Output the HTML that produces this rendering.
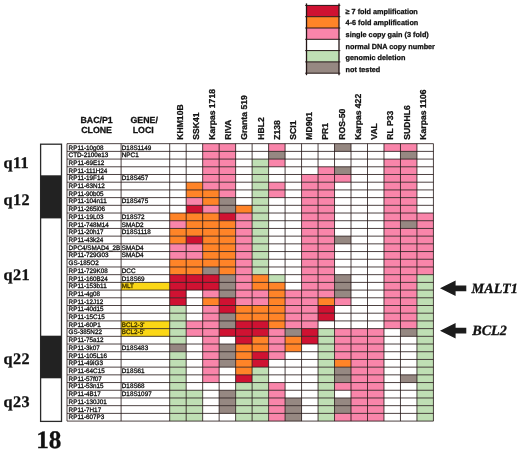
<!DOCTYPE html>
<html><head><meta charset="utf-8"><title>Chromosome 18 array CGH</title>
<style>html,body{margin:0;padding:0;background:#fff}body{width:520px;height:451px;overflow:hidden}svg{display:block;will-change:transform}text{font-family:"Liberation Sans",sans-serif;text-rendering:geometricPrecision}.s{font-family:"Liberation Serif",serif;font-weight:bold;stroke:#111;stroke-width:.3px}.b{font-weight:bold;stroke:#111;stroke-width:.28px}</style></head><body>
<svg width="520" height="451" viewBox="0 0 520 451">
<rect x="0" y="0" width="520" height="451" fill="#fff"/>
<rect x="306.5" y="5.40" width="32.50" height="11.3" fill="#cf1232"/>
<text class="b" x="345.6" y="13.95" font-size="7.27" fill="#111">≥ 7 fold amplification</text>
<rect x="306.5" y="16.70" width="32.50" height="11.3" fill="#ff8428"/>
<text class="b" x="345.6" y="25.47" font-size="7.27" fill="#111">4-6 fold amplification</text>
<rect x="306.5" y="28.00" width="32.50" height="11.3" fill="#f985aa"/>
<text class="b" x="345.6" y="36.99" font-size="7.27" fill="#111">single copy gain (3 fold)</text>
<rect x="306.5" y="39.30" width="32.50" height="11.3" fill="#ffffff"/>
<text class="b" x="345.6" y="48.51" font-size="7.27" fill="#111">normal DNA copy number</text>
<rect x="306.5" y="50.60" width="32.50" height="11.3" fill="#bfdfb4"/>
<text class="b" x="345.6" y="60.03" font-size="7.27" fill="#111">genomic deletion</text>
<rect x="306.5" y="61.90" width="32.50" height="11.3" fill="#968882"/>
<text class="b" x="345.6" y="71.55" font-size="7.27" fill="#111">not tested</text>
<line x1="305.2" y1="5.40" x2="340.3" y2="5.40" stroke="#231515" stroke-width="1"/>
<line x1="305.2" y1="16.70" x2="340.3" y2="16.70" stroke="#231515" stroke-width="1"/>
<line x1="305.2" y1="28.00" x2="340.3" y2="28.00" stroke="#231515" stroke-width="1"/>
<line x1="305.2" y1="39.30" x2="340.3" y2="39.30" stroke="#231515" stroke-width="1"/>
<line x1="305.2" y1="50.60" x2="340.3" y2="50.60" stroke="#231515" stroke-width="1"/>
<line x1="305.2" y1="61.90" x2="340.3" y2="61.90" stroke="#231515" stroke-width="1"/>
<line x1="305.2" y1="73.20" x2="340.3" y2="73.20" stroke="#231515" stroke-width="1"/>
<line x1="306.5" y1="3.4000000000000004" x2="306.5" y2="75.20" stroke="#231515" stroke-width="1.3"/>
<line x1="339.0" y1="3.4000000000000004" x2="339.0" y2="75.20" stroke="#231515" stroke-width="1.3"/>
<rect x="40.6" y="144.2" width="20.90" height="277.20" fill="#fff" stroke="#2a2a2a" stroke-width="1.3"/>
<rect x="40.6" y="175.3" width="20.90" height="43.10" fill="#222"/>
<rect x="40.6" y="335.7" width="20.90" height="42.60" fill="#222"/>
<text class="s" x="3.6" y="167.6" font-size="16.2" letter-spacing="0.35" fill="#111">q11</text>
<text class="s" x="3.6" y="204.9" font-size="16.2" letter-spacing="0.35" fill="#111">q12</text>
<text class="s" x="3.6" y="279.5" font-size="16.2" letter-spacing="0.35" fill="#111">q21</text>
<text class="s" x="3.6" y="364.3" font-size="16.2" letter-spacing="0.35" fill="#111">q22</text>
<text class="s" x="3.6" y="407.4" font-size="16.2" letter-spacing="0.35" fill="#111">q23</text>
<text class="s" x="36.2" y="448.3" font-size="25.2" fill="#111">18</text>
<text class="b" x="96.6" y="123.1" font-size="8.8" text-anchor="middle" fill="#111">BAC/P1</text>
<text class="b" x="96.6" y="132.8" font-size="8.8" text-anchor="middle" fill="#111">CLONE</text>
<text class="b" x="144.2" y="123.1" font-size="8.8" text-anchor="middle" fill="#111">GENE/</text>
<text class="b" x="143.2" y="132.8" font-size="8.8" text-anchor="middle" fill="#111">LOCI</text>
<text class="b" font-size="8.6" fill="#111" transform="translate(182.60 139.7) rotate(-90)">KHM10B</text>
<text class="b" font-size="8.6" fill="#111" transform="translate(198.81 139.7) rotate(-90)">SSK41</text>
<text class="b" font-size="8.6" fill="#111" transform="translate(215.02 139.7) rotate(-90)">Karpas 1718</text>
<text class="b" font-size="8.6" fill="#111" transform="translate(231.23 139.7) rotate(-90)">RIVA</text>
<text class="b" font-size="8.6" fill="#111" transform="translate(247.44 139.7) rotate(-90)">Granta 519</text>
<text class="b" font-size="8.6" fill="#111" transform="translate(263.65 139.7) rotate(-90)">HBL2</text>
<text class="b" font-size="8.6" fill="#111" transform="translate(279.86 139.7) rotate(-90)">Z138</text>
<text class="b" font-size="8.6" fill="#111" transform="translate(296.07 139.7) rotate(-90)">SCI1</text>
<text class="b" font-size="8.6" fill="#111" transform="translate(312.28 139.7) rotate(-90)">MD901</text>
<text class="b" font-size="8.6" fill="#111" transform="translate(328.49 139.7) rotate(-90)">PR1</text>
<text class="b" font-size="8.6" fill="#111" transform="translate(344.70 139.7) rotate(-90)">ROS-50</text>
<text class="b" font-size="8.6" fill="#111" transform="translate(360.91 139.7) rotate(-90)">Karpas 422</text>
<text class="b" font-size="8.6" fill="#111" transform="translate(377.12 139.7) rotate(-90)">VAL</text>
<text class="b" font-size="8.6" fill="#111" transform="translate(393.33 139.7) rotate(-90)">RL P33</text>
<text class="b" font-size="8.6" fill="#111" transform="translate(409.54 139.7) rotate(-90)">SUDHL6</text>
<text class="b" font-size="8.6" fill="#111" transform="translate(425.75 139.7) rotate(-90)">Karpas 1106</text>
<rect x="121.1" y="328.61" width="48.60" height="7.706" fill="#fbd716"/>
<rect x="121.1" y="282.38" width="48.60" height="7.706" fill="#fbd716"/>
<rect x="121.1" y="320.91" width="48.60" height="7.706" fill="#fbd716"/>
<text transform="translate(68.6 149.52) scale(0.972 1)" font-size="6.5" fill="#111" stroke="#111" stroke-width="0.3">RP11-10g08</text>
<text transform="translate(121.8 149.52) scale(0.972 1)" font-size="6.5" fill="#111" stroke="#111" stroke-width="0.3">D18S1149</text>
<text transform="translate(68.6 157.23) scale(0.972 1)" font-size="6.5" fill="#111" stroke="#111" stroke-width="0.3">CTD-2100e13</text>
<text transform="translate(121.8 157.23) scale(0.972 1)" font-size="6.5" fill="#111" stroke="#111" stroke-width="0.3">NPC1</text>
<text transform="translate(68.6 164.93) scale(0.972 1)" font-size="6.5" fill="#111" stroke="#111" stroke-width="0.3">RP11-69E12</text>
<text transform="translate(68.6 172.64) scale(0.972 1)" font-size="6.5" fill="#111" stroke="#111" stroke-width="0.3">RP11-111H24</text>
<text transform="translate(68.6 180.34) scale(0.972 1)" font-size="6.5" fill="#111" stroke="#111" stroke-width="0.3">RP11-19F14</text>
<text transform="translate(121.8 180.34) scale(0.972 1)" font-size="6.5" fill="#111" stroke="#111" stroke-width="0.3">D18S457</text>
<text transform="translate(68.6 188.05) scale(0.972 1)" font-size="6.5" fill="#111" stroke="#111" stroke-width="0.3">RP11-63N12</text>
<text transform="translate(68.6 195.76) scale(0.972 1)" font-size="6.5" fill="#111" stroke="#111" stroke-width="0.3">RP11-90b05</text>
<text transform="translate(68.6 203.46) scale(0.972 1)" font-size="6.5" fill="#111" stroke="#111" stroke-width="0.3">RP11-104n11</text>
<text transform="translate(121.8 203.46) scale(0.972 1)" font-size="6.5" fill="#111" stroke="#111" stroke-width="0.3">D18S475</text>
<text transform="translate(68.6 211.17) scale(0.972 1)" font-size="6.5" fill="#111" stroke="#111" stroke-width="0.3">RP11-265i06</text>
<text transform="translate(68.6 218.87) scale(0.972 1)" font-size="6.5" fill="#111" stroke="#111" stroke-width="0.3">RP11-19L03</text>
<text transform="translate(121.8 218.87) scale(0.972 1)" font-size="6.5" fill="#111" stroke="#111" stroke-width="0.3">D18S72</text>
<text transform="translate(68.6 226.58) scale(0.972 1)" font-size="6.5" fill="#111" stroke="#111" stroke-width="0.3">RP11-748M14</text>
<text transform="translate(121.8 226.58) scale(0.972 1)" font-size="6.5" fill="#111" stroke="#111" stroke-width="0.3">SMAD2</text>
<text transform="translate(68.6 234.29) scale(0.972 1)" font-size="6.5" fill="#111" stroke="#111" stroke-width="0.3">RP11-20h17</text>
<text transform="translate(121.8 234.29) scale(0.972 1)" font-size="6.5" fill="#111" stroke="#111" stroke-width="0.3">D18S1118</text>
<text transform="translate(68.6 241.99) scale(0.972 1)" font-size="6.5" fill="#111" stroke="#111" stroke-width="0.3">RP11-43k24</text>
<text transform="translate(68.6 249.70) scale(0.972 1)" font-size="6.5" fill="#111" stroke="#111" stroke-width="0.3">DPC4/SMAD4_2B</text>
<text transform="translate(121.8 249.70) scale(0.972 1)" font-size="6.5" fill="#111" stroke="#111" stroke-width="0.3">SMAD4</text>
<text transform="translate(68.6 257.40) scale(0.972 1)" font-size="6.5" fill="#111" stroke="#111" stroke-width="0.3">RP11-729G03</text>
<text transform="translate(121.8 257.40) scale(0.972 1)" font-size="6.5" fill="#111" stroke="#111" stroke-width="0.3">SMAD4</text>
<text transform="translate(68.6 265.11) scale(0.972 1)" font-size="6.5" fill="#111" stroke="#111" stroke-width="0.3">GS-185O2</text>
<text transform="translate(68.6 272.82) scale(0.972 1)" font-size="6.5" fill="#111" stroke="#111" stroke-width="0.3">RP11-729K08</text>
<text transform="translate(121.8 272.82) scale(0.972 1)" font-size="6.5" fill="#111" stroke="#111" stroke-width="0.3">DCC</text>
<text transform="translate(68.6 280.52) scale(0.972 1)" font-size="6.5" fill="#111" stroke="#111" stroke-width="0.3">RP11-160B24</text>
<text transform="translate(121.8 280.52) scale(0.972 1)" font-size="6.5" fill="#111" stroke="#111" stroke-width="0.3">D18S69</text>
<text transform="translate(68.6 288.23) scale(0.972 1)" font-size="6.5" fill="#111" stroke="#111" stroke-width="0.3">RP11-153b11</text>
<text transform="translate(121.8 288.23) scale(0.972 1)" font-size="6.5" fill="#3d3200" stroke="#3d3200" stroke-width="0.3">MLT</text>
<text transform="translate(68.6 295.93) scale(0.972 1)" font-size="6.5" fill="#111" stroke="#111" stroke-width="0.3">RP11-4g08</text>
<text transform="translate(68.6 303.64) scale(0.972 1)" font-size="6.5" fill="#111" stroke="#111" stroke-width="0.3">RP11-12J12</text>
<text transform="translate(68.6 311.35) scale(0.972 1)" font-size="6.5" fill="#111" stroke="#111" stroke-width="0.3">RP11-40d15</text>
<text transform="translate(68.6 319.05) scale(0.972 1)" font-size="6.5" fill="#111" stroke="#111" stroke-width="0.3">RP11-15C15</text>
<text transform="translate(68.6 326.76) scale(0.972 1)" font-size="6.5" fill="#111" stroke="#111" stroke-width="0.3">RP11-60P1</text>
<text transform="translate(121.8 326.76) scale(0.972 1)" font-size="6.5" fill="#3d3200" stroke="#3d3200" stroke-width="0.3">BCL2-3'</text>
<text transform="translate(68.6 334.46) scale(0.972 1)" font-size="6.5" fill="#111" stroke="#111" stroke-width="0.3">GS-385N22</text>
<text transform="translate(121.8 334.46) scale(0.972 1)" font-size="6.5" fill="#3d3200" stroke="#3d3200" stroke-width="0.3">BCL2-5'</text>
<text transform="translate(68.6 342.17) scale(0.972 1)" font-size="6.5" fill="#111" stroke="#111" stroke-width="0.3">RP11-75a12</text>
<text transform="translate(68.6 349.88) scale(0.972 1)" font-size="6.5" fill="#111" stroke="#111" stroke-width="0.3">RP11-3k07</text>
<text transform="translate(121.8 349.88) scale(0.972 1)" font-size="6.5" fill="#111" stroke="#111" stroke-width="0.3">D18S483</text>
<text transform="translate(68.6 357.58) scale(0.972 1)" font-size="6.5" fill="#111" stroke="#111" stroke-width="0.3">RP11-105L16</text>
<text transform="translate(68.6 365.29) scale(0.972 1)" font-size="6.5" fill="#111" stroke="#111" stroke-width="0.3">RP11-49iG3</text>
<text transform="translate(68.6 372.99) scale(0.972 1)" font-size="6.5" fill="#111" stroke="#111" stroke-width="0.3">RP11-64C15</text>
<text transform="translate(121.8 372.99) scale(0.972 1)" font-size="6.5" fill="#111" stroke="#111" stroke-width="0.3">D18S61</text>
<text transform="translate(68.6 380.70) scale(0.972 1)" font-size="6.5" fill="#111" stroke="#111" stroke-width="0.3">RP11-57f07</text>
<text transform="translate(68.6 388.41) scale(0.972 1)" font-size="6.5" fill="#111" stroke="#111" stroke-width="0.3">RP11-53n15</text>
<text transform="translate(121.8 388.41) scale(0.972 1)" font-size="6.5" fill="#111" stroke="#111" stroke-width="0.3">D18S68</text>
<text transform="translate(68.6 396.11) scale(0.972 1)" font-size="6.5" fill="#111" stroke="#111" stroke-width="0.3">RP11-4B17</text>
<text transform="translate(121.8 396.11) scale(0.972 1)" font-size="6.5" fill="#111" stroke="#111" stroke-width="0.3">D18S1097</text>
<text transform="translate(68.6 403.82) scale(0.972 1)" font-size="6.5" fill="#111" stroke="#111" stroke-width="0.3">RP11-130J01</text>
<text transform="translate(68.6 411.52) scale(0.972 1)" font-size="6.5" fill="#111" stroke="#111" stroke-width="0.3">RP11-7H17</text>
<text transform="translate(68.6 419.23) scale(0.972 1)" font-size="6.5" fill="#111" stroke="#111" stroke-width="0.3">RP11-607P3</text>
<rect x="202.67" y="143.67" width="32.97" height="7.706" fill="#f985aa"/>
<rect x="268.60" y="143.67" width="16.48" height="7.706" fill="#f985aa"/>
<rect x="334.53" y="143.67" width="16.48" height="7.706" fill="#968882"/>
<rect x="383.98" y="143.67" width="32.97" height="7.706" fill="#f985aa"/>
<rect x="202.67" y="151.38" width="32.97" height="7.706" fill="#f985aa"/>
<rect x="268.60" y="151.38" width="16.48" height="7.706" fill="#968882"/>
<rect x="400.46" y="151.38" width="16.48" height="7.706" fill="#968882"/>
<rect x="202.67" y="159.08" width="32.97" height="7.706" fill="#f985aa"/>
<rect x="252.12" y="159.08" width="16.48" height="7.706" fill="#bfdfb4"/>
<rect x="268.60" y="159.08" width="16.48" height="7.706" fill="#f985aa"/>
<rect x="383.98" y="159.08" width="32.97" height="7.706" fill="#f985aa"/>
<rect x="202.67" y="166.79" width="32.97" height="7.706" fill="#f985aa"/>
<rect x="252.12" y="166.79" width="16.48" height="7.706" fill="#bfdfb4"/>
<rect x="318.05" y="166.79" width="16.48" height="7.706" fill="#f985aa"/>
<rect x="334.53" y="166.79" width="16.48" height="7.706" fill="#968882"/>
<rect x="383.98" y="166.79" width="32.97" height="7.706" fill="#f985aa"/>
<rect x="202.67" y="174.49" width="32.97" height="7.706" fill="#f985aa"/>
<rect x="252.12" y="174.49" width="16.48" height="7.706" fill="#bfdfb4"/>
<rect x="301.56" y="174.49" width="49.45" height="7.706" fill="#f985aa"/>
<rect x="383.98" y="174.49" width="32.97" height="7.706" fill="#f985aa"/>
<rect x="186.18" y="182.20" width="16.48" height="7.706" fill="#ff8428"/>
<rect x="202.67" y="182.20" width="32.97" height="7.706" fill="#f985aa"/>
<rect x="252.12" y="182.20" width="16.48" height="7.706" fill="#bfdfb4"/>
<rect x="268.60" y="182.20" width="16.48" height="7.706" fill="#f985aa"/>
<rect x="301.56" y="182.20" width="32.97" height="7.706" fill="#f985aa"/>
<rect x="383.98" y="182.20" width="32.97" height="7.706" fill="#f985aa"/>
<rect x="186.18" y="189.91" width="32.97" height="7.706" fill="#ff8428"/>
<rect x="219.15" y="189.91" width="16.48" height="7.706" fill="#f985aa"/>
<rect x="252.12" y="189.91" width="16.48" height="7.706" fill="#bfdfb4"/>
<rect x="268.60" y="189.91" width="16.48" height="7.706" fill="#f985aa"/>
<rect x="301.56" y="189.91" width="32.97" height="7.706" fill="#f985aa"/>
<rect x="383.98" y="189.91" width="32.97" height="7.706" fill="#f985aa"/>
<rect x="186.18" y="197.61" width="16.48" height="7.706" fill="#f985aa"/>
<rect x="202.67" y="197.61" width="16.48" height="7.706" fill="#ff8428"/>
<rect x="219.15" y="197.61" width="16.48" height="7.706" fill="#968882"/>
<rect x="252.12" y="197.61" width="16.48" height="7.706" fill="#bfdfb4"/>
<rect x="301.56" y="197.61" width="32.97" height="7.706" fill="#f985aa"/>
<rect x="383.98" y="197.61" width="32.97" height="7.706" fill="#f985aa"/>
<rect x="186.18" y="205.32" width="16.48" height="7.706" fill="#cf1232"/>
<rect x="202.67" y="205.32" width="16.48" height="7.706" fill="#f985aa"/>
<rect x="219.15" y="205.32" width="16.48" height="7.706" fill="#968882"/>
<rect x="235.63" y="205.32" width="16.48" height="7.706" fill="#ff8428"/>
<rect x="252.12" y="205.32" width="16.48" height="7.706" fill="#bfdfb4"/>
<rect x="301.56" y="205.32" width="32.97" height="7.706" fill="#f985aa"/>
<rect x="383.98" y="205.32" width="32.97" height="7.706" fill="#f985aa"/>
<rect x="169.70" y="213.02" width="49.45" height="7.706" fill="#ff8428"/>
<rect x="219.15" y="213.02" width="16.48" height="7.706" fill="#cf1232"/>
<rect x="235.63" y="213.02" width="16.48" height="7.706" fill="#f985aa"/>
<rect x="252.12" y="213.02" width="16.48" height="7.706" fill="#bfdfb4"/>
<rect x="301.56" y="213.02" width="32.97" height="7.706" fill="#f985aa"/>
<rect x="383.98" y="213.02" width="49.45" height="7.706" fill="#f985aa"/>
<rect x="169.70" y="220.73" width="16.48" height="7.706" fill="#f985aa"/>
<rect x="186.18" y="220.73" width="49.45" height="7.706" fill="#ff8428"/>
<rect x="235.63" y="220.73" width="16.48" height="7.706" fill="#f985aa"/>
<rect x="252.12" y="220.73" width="16.48" height="7.706" fill="#bfdfb4"/>
<rect x="301.56" y="220.73" width="32.97" height="7.706" fill="#f985aa"/>
<rect x="383.98" y="220.73" width="16.48" height="7.706" fill="#f985aa"/>
<rect x="400.46" y="220.73" width="16.48" height="7.706" fill="#968882"/>
<rect x="416.94" y="220.73" width="16.48" height="7.706" fill="#f985aa"/>
<rect x="169.70" y="228.44" width="65.93" height="7.706" fill="#ff8428"/>
<rect x="235.63" y="228.44" width="16.48" height="7.706" fill="#f985aa"/>
<rect x="252.12" y="228.44" width="16.48" height="7.706" fill="#bfdfb4"/>
<rect x="301.56" y="228.44" width="32.97" height="7.706" fill="#f985aa"/>
<rect x="383.98" y="228.44" width="49.45" height="7.706" fill="#f985aa"/>
<rect x="169.70" y="236.14" width="16.48" height="7.706" fill="#ff8428"/>
<rect x="186.18" y="236.14" width="16.48" height="7.706" fill="#cf1232"/>
<rect x="202.67" y="236.14" width="32.97" height="7.706" fill="#ff8428"/>
<rect x="235.63" y="236.14" width="16.48" height="7.706" fill="#f985aa"/>
<rect x="252.12" y="236.14" width="16.48" height="7.706" fill="#bfdfb4"/>
<rect x="301.56" y="236.14" width="32.97" height="7.706" fill="#f985aa"/>
<rect x="334.53" y="236.14" width="16.48" height="7.706" fill="#968882"/>
<rect x="383.98" y="236.14" width="49.45" height="7.706" fill="#f985aa"/>
<rect x="169.70" y="243.85" width="32.97" height="7.706" fill="#f985aa"/>
<rect x="202.67" y="243.85" width="32.97" height="7.706" fill="#ff8428"/>
<rect x="235.63" y="243.85" width="16.48" height="7.706" fill="#f985aa"/>
<rect x="252.12" y="243.85" width="16.48" height="7.706" fill="#bfdfb4"/>
<rect x="301.56" y="243.85" width="32.97" height="7.706" fill="#f985aa"/>
<rect x="383.98" y="243.85" width="49.45" height="7.706" fill="#f985aa"/>
<rect x="169.70" y="251.55" width="32.97" height="7.706" fill="#f985aa"/>
<rect x="202.67" y="251.55" width="32.97" height="7.706" fill="#ff8428"/>
<rect x="235.63" y="251.55" width="16.48" height="7.706" fill="#f985aa"/>
<rect x="252.12" y="251.55" width="16.48" height="7.706" fill="#bfdfb4"/>
<rect x="301.56" y="251.55" width="32.97" height="7.706" fill="#f985aa"/>
<rect x="383.98" y="251.55" width="49.45" height="7.706" fill="#f985aa"/>
<rect x="169.70" y="259.26" width="65.93" height="7.706" fill="#ff8428"/>
<rect x="235.63" y="259.26" width="16.48" height="7.706" fill="#f985aa"/>
<rect x="252.12" y="259.26" width="16.48" height="7.706" fill="#bfdfb4"/>
<rect x="301.56" y="259.26" width="32.97" height="7.706" fill="#f985aa"/>
<rect x="383.98" y="259.26" width="49.45" height="7.706" fill="#f985aa"/>
<rect x="169.70" y="266.97" width="32.97" height="7.706" fill="#ff8428"/>
<rect x="202.67" y="266.97" width="16.48" height="7.706" fill="#968882"/>
<rect x="219.15" y="266.97" width="16.48" height="7.706" fill="#ff8428"/>
<rect x="235.63" y="266.97" width="16.48" height="7.706" fill="#f985aa"/>
<rect x="252.12" y="266.97" width="16.48" height="7.706" fill="#bfdfb4"/>
<rect x="301.56" y="266.97" width="32.97" height="7.706" fill="#f985aa"/>
<rect x="383.98" y="266.97" width="49.45" height="7.706" fill="#f985aa"/>
<rect x="169.70" y="274.67" width="49.45" height="7.706" fill="#cf1232"/>
<rect x="219.15" y="274.67" width="16.48" height="7.706" fill="#968882"/>
<rect x="235.63" y="274.67" width="16.48" height="7.706" fill="#f985aa"/>
<rect x="252.12" y="274.67" width="16.48" height="7.706" fill="#ff8428"/>
<rect x="268.60" y="274.67" width="16.48" height="7.706" fill="#bfdfb4"/>
<rect x="301.56" y="274.67" width="32.97" height="7.706" fill="#f985aa"/>
<rect x="334.53" y="274.67" width="16.48" height="7.706" fill="#968882"/>
<rect x="383.98" y="274.67" width="32.97" height="7.706" fill="#f985aa"/>
<rect x="416.94" y="274.67" width="16.48" height="7.706" fill="#bfdfb4"/>
<rect x="169.70" y="282.38" width="49.45" height="7.706" fill="#cf1232"/>
<rect x="219.15" y="282.38" width="16.48" height="7.706" fill="#968882"/>
<rect x="235.63" y="282.38" width="16.48" height="7.706" fill="#f985aa"/>
<rect x="252.12" y="282.38" width="32.97" height="7.706" fill="#ff8428"/>
<rect x="301.56" y="282.38" width="32.97" height="7.706" fill="#f985aa"/>
<rect x="334.53" y="282.38" width="16.48" height="7.706" fill="#968882"/>
<rect x="383.98" y="282.38" width="32.97" height="7.706" fill="#f985aa"/>
<rect x="416.94" y="282.38" width="16.48" height="7.706" fill="#bfdfb4"/>
<rect x="169.70" y="290.08" width="16.48" height="7.706" fill="#cf1232"/>
<rect x="202.67" y="290.08" width="16.48" height="7.706" fill="#f985aa"/>
<rect x="219.15" y="290.08" width="16.48" height="7.706" fill="#968882"/>
<rect x="235.63" y="290.08" width="32.97" height="7.706" fill="#f985aa"/>
<rect x="268.60" y="290.08" width="16.48" height="7.706" fill="#ff8428"/>
<rect x="285.08" y="290.08" width="49.45" height="7.706" fill="#f985aa"/>
<rect x="334.53" y="290.08" width="16.48" height="7.706" fill="#968882"/>
<rect x="383.98" y="290.08" width="32.97" height="7.706" fill="#f985aa"/>
<rect x="416.94" y="290.08" width="16.48" height="7.706" fill="#bfdfb4"/>
<rect x="169.70" y="297.79" width="16.48" height="7.706" fill="#cf1232"/>
<rect x="202.67" y="297.79" width="16.48" height="7.706" fill="#ff8428"/>
<rect x="219.15" y="297.79" width="16.48" height="7.706" fill="#cf1232"/>
<rect x="235.63" y="297.79" width="32.97" height="7.706" fill="#f985aa"/>
<rect x="268.60" y="297.79" width="16.48" height="7.706" fill="#ff8428"/>
<rect x="285.08" y="297.79" width="32.97" height="7.706" fill="#f985aa"/>
<rect x="318.05" y="297.79" width="16.48" height="7.706" fill="#ff8428"/>
<rect x="334.53" y="297.79" width="16.48" height="7.706" fill="#f985aa"/>
<rect x="383.98" y="297.79" width="32.97" height="7.706" fill="#f985aa"/>
<rect x="416.94" y="297.79" width="16.48" height="7.706" fill="#bfdfb4"/>
<rect x="169.70" y="305.50" width="16.48" height="7.706" fill="#bfdfb4"/>
<rect x="202.67" y="305.50" width="16.48" height="7.706" fill="#f985aa"/>
<rect x="219.15" y="305.50" width="16.48" height="7.706" fill="#cf1232"/>
<rect x="235.63" y="305.50" width="49.45" height="7.706" fill="#ff8428"/>
<rect x="285.08" y="305.50" width="32.97" height="7.706" fill="#f985aa"/>
<rect x="318.05" y="305.50" width="16.48" height="7.706" fill="#cf1232"/>
<rect x="383.98" y="305.50" width="32.97" height="7.706" fill="#f985aa"/>
<rect x="416.94" y="305.50" width="16.48" height="7.706" fill="#bfdfb4"/>
<rect x="169.70" y="313.20" width="16.48" height="7.706" fill="#bfdfb4"/>
<rect x="202.67" y="313.20" width="16.48" height="7.706" fill="#f985aa"/>
<rect x="219.15" y="313.20" width="16.48" height="7.706" fill="#968882"/>
<rect x="235.63" y="313.20" width="49.45" height="7.706" fill="#ff8428"/>
<rect x="285.08" y="313.20" width="32.97" height="7.706" fill="#f985aa"/>
<rect x="318.05" y="313.20" width="16.48" height="7.706" fill="#cf1232"/>
<rect x="383.98" y="313.20" width="32.97" height="7.706" fill="#f985aa"/>
<rect x="416.94" y="313.20" width="16.48" height="7.706" fill="#bfdfb4"/>
<rect x="169.70" y="320.91" width="16.48" height="7.706" fill="#bfdfb4"/>
<rect x="186.18" y="320.91" width="32.97" height="7.706" fill="#f985aa"/>
<rect x="219.15" y="320.91" width="16.48" height="7.706" fill="#968882"/>
<rect x="235.63" y="320.91" width="32.97" height="7.706" fill="#cf1232"/>
<rect x="268.60" y="320.91" width="16.48" height="7.706" fill="#ff8428"/>
<rect x="285.08" y="320.91" width="32.97" height="7.706" fill="#f985aa"/>
<rect x="383.98" y="320.91" width="32.97" height="7.706" fill="#f985aa"/>
<rect x="416.94" y="320.91" width="16.48" height="7.706" fill="#bfdfb4"/>
<rect x="169.70" y="328.61" width="16.48" height="7.706" fill="#bfdfb4"/>
<rect x="186.18" y="328.61" width="32.97" height="7.706" fill="#f985aa"/>
<rect x="219.15" y="328.61" width="49.45" height="7.706" fill="#cf1232"/>
<rect x="268.60" y="328.61" width="16.48" height="7.706" fill="#f985aa"/>
<rect x="285.08" y="328.61" width="16.48" height="7.706" fill="#968882"/>
<rect x="301.56" y="328.61" width="16.48" height="7.706" fill="#cf1232"/>
<rect x="318.05" y="328.61" width="16.48" height="7.706" fill="#bfdfb4"/>
<rect x="334.53" y="328.61" width="49.45" height="7.706" fill="#f985aa"/>
<rect x="400.46" y="328.61" width="16.48" height="7.706" fill="#968882"/>
<rect x="416.94" y="328.61" width="16.48" height="7.706" fill="#bfdfb4"/>
<rect x="169.70" y="336.32" width="16.48" height="7.706" fill="#bfdfb4"/>
<rect x="202.67" y="336.32" width="16.48" height="7.706" fill="#f985aa"/>
<rect x="235.63" y="336.32" width="16.48" height="7.706" fill="#cf1232"/>
<rect x="252.12" y="336.32" width="16.48" height="7.706" fill="#ff8428"/>
<rect x="268.60" y="336.32" width="16.48" height="7.706" fill="#f985aa"/>
<rect x="285.08" y="336.32" width="16.48" height="7.706" fill="#ff8428"/>
<rect x="301.56" y="336.32" width="16.48" height="7.706" fill="#cf1232"/>
<rect x="318.05" y="336.32" width="16.48" height="7.706" fill="#bfdfb4"/>
<rect x="334.53" y="336.32" width="49.45" height="7.706" fill="#f985aa"/>
<rect x="416.94" y="336.32" width="16.48" height="7.706" fill="#bfdfb4"/>
<rect x="169.70" y="344.03" width="16.48" height="7.706" fill="#968882"/>
<rect x="202.67" y="344.03" width="16.48" height="7.706" fill="#f985aa"/>
<rect x="219.15" y="344.03" width="16.48" height="7.706" fill="#968882"/>
<rect x="235.63" y="344.03" width="32.97" height="7.706" fill="#ff8428"/>
<rect x="268.60" y="344.03" width="16.48" height="7.706" fill="#f985aa"/>
<rect x="285.08" y="344.03" width="16.48" height="7.706" fill="#ff8428"/>
<rect x="318.05" y="344.03" width="16.48" height="7.706" fill="#bfdfb4"/>
<rect x="334.53" y="344.03" width="49.45" height="7.706" fill="#f985aa"/>
<rect x="416.94" y="344.03" width="16.48" height="7.706" fill="#bfdfb4"/>
<rect x="169.70" y="351.73" width="16.48" height="7.706" fill="#bfdfb4"/>
<rect x="202.67" y="351.73" width="16.48" height="7.706" fill="#f985aa"/>
<rect x="219.15" y="351.73" width="16.48" height="7.706" fill="#968882"/>
<rect x="235.63" y="351.73" width="16.48" height="7.706" fill="#ff8428"/>
<rect x="252.12" y="351.73" width="16.48" height="7.706" fill="#cf1232"/>
<rect x="268.60" y="351.73" width="16.48" height="7.706" fill="#f985aa"/>
<rect x="318.05" y="351.73" width="16.48" height="7.706" fill="#bfdfb4"/>
<rect x="334.53" y="351.73" width="49.45" height="7.706" fill="#f985aa"/>
<rect x="416.94" y="351.73" width="16.48" height="7.706" fill="#bfdfb4"/>
<rect x="169.70" y="359.44" width="16.48" height="7.706" fill="#bfdfb4"/>
<rect x="202.67" y="359.44" width="16.48" height="7.706" fill="#f985aa"/>
<rect x="219.15" y="359.44" width="16.48" height="7.706" fill="#968882"/>
<rect x="235.63" y="359.44" width="16.48" height="7.706" fill="#ff8428"/>
<rect x="252.12" y="359.44" width="16.48" height="7.706" fill="#cf1232"/>
<rect x="318.05" y="359.44" width="16.48" height="7.706" fill="#bfdfb4"/>
<rect x="334.53" y="359.44" width="16.48" height="7.706" fill="#ff8428"/>
<rect x="351.01" y="359.44" width="32.97" height="7.706" fill="#f985aa"/>
<rect x="416.94" y="359.44" width="16.48" height="7.706" fill="#bfdfb4"/>
<rect x="169.70" y="367.14" width="16.48" height="7.706" fill="#bfdfb4"/>
<rect x="202.67" y="367.14" width="16.48" height="7.706" fill="#f985aa"/>
<rect x="235.63" y="367.14" width="16.48" height="7.706" fill="#ff8428"/>
<rect x="252.12" y="367.14" width="16.48" height="7.706" fill="#bfdfb4"/>
<rect x="318.05" y="367.14" width="16.48" height="7.706" fill="#bfdfb4"/>
<rect x="334.53" y="367.14" width="16.48" height="7.706" fill="#968882"/>
<rect x="351.01" y="367.14" width="32.97" height="7.706" fill="#f985aa"/>
<rect x="416.94" y="367.14" width="16.48" height="7.706" fill="#bfdfb4"/>
<rect x="169.70" y="374.85" width="16.48" height="7.706" fill="#bfdfb4"/>
<rect x="202.67" y="374.85" width="16.48" height="7.706" fill="#f985aa"/>
<rect x="235.63" y="374.85" width="16.48" height="7.706" fill="#cf1232"/>
<rect x="252.12" y="374.85" width="16.48" height="7.706" fill="#bfdfb4"/>
<rect x="318.05" y="374.85" width="16.48" height="7.706" fill="#bfdfb4"/>
<rect x="334.53" y="374.85" width="16.48" height="7.706" fill="#968882"/>
<rect x="351.01" y="374.85" width="32.97" height="7.706" fill="#f985aa"/>
<rect x="400.46" y="374.85" width="16.48" height="7.706" fill="#968882"/>
<rect x="416.94" y="374.85" width="16.48" height="7.706" fill="#bfdfb4"/>
<rect x="169.70" y="382.56" width="16.48" height="7.706" fill="#bfdfb4"/>
<rect x="235.63" y="382.56" width="32.97" height="7.706" fill="#bfdfb4"/>
<rect x="268.60" y="382.56" width="16.48" height="7.706" fill="#f985aa"/>
<rect x="318.05" y="382.56" width="16.48" height="7.706" fill="#bfdfb4"/>
<rect x="334.53" y="382.56" width="49.45" height="7.706" fill="#f985aa"/>
<rect x="416.94" y="382.56" width="16.48" height="7.706" fill="#bfdfb4"/>
<rect x="169.70" y="390.26" width="32.97" height="7.706" fill="#bfdfb4"/>
<rect x="219.15" y="390.26" width="16.48" height="7.706" fill="#968882"/>
<rect x="235.63" y="390.26" width="32.97" height="7.706" fill="#bfdfb4"/>
<rect x="268.60" y="390.26" width="16.48" height="7.706" fill="#f985aa"/>
<rect x="318.05" y="390.26" width="16.48" height="7.706" fill="#bfdfb4"/>
<rect x="351.01" y="390.26" width="32.97" height="7.706" fill="#f985aa"/>
<rect x="416.94" y="390.26" width="16.48" height="7.706" fill="#bfdfb4"/>
<rect x="169.70" y="397.97" width="32.97" height="7.706" fill="#bfdfb4"/>
<rect x="219.15" y="397.97" width="16.48" height="7.706" fill="#968882"/>
<rect x="235.63" y="397.97" width="32.97" height="7.706" fill="#bfdfb4"/>
<rect x="268.60" y="397.97" width="16.48" height="7.706" fill="#f985aa"/>
<rect x="285.08" y="397.97" width="16.48" height="7.706" fill="#968882"/>
<rect x="318.05" y="397.97" width="16.48" height="7.706" fill="#bfdfb4"/>
<rect x="334.53" y="397.97" width="16.48" height="7.706" fill="#968882"/>
<rect x="351.01" y="397.97" width="32.97" height="7.706" fill="#f985aa"/>
<rect x="416.94" y="397.97" width="16.48" height="7.706" fill="#bfdfb4"/>
<rect x="169.70" y="405.67" width="32.97" height="7.706" fill="#bfdfb4"/>
<rect x="219.15" y="405.67" width="16.48" height="7.706" fill="#968882"/>
<rect x="235.63" y="405.67" width="32.97" height="7.706" fill="#bfdfb4"/>
<rect x="268.60" y="405.67" width="16.48" height="7.706" fill="#f985aa"/>
<rect x="285.08" y="405.67" width="16.48" height="7.706" fill="#968882"/>
<rect x="318.05" y="405.67" width="16.48" height="7.706" fill="#bfdfb4"/>
<rect x="334.53" y="405.67" width="16.48" height="7.706" fill="#968882"/>
<rect x="351.01" y="405.67" width="32.97" height="7.706" fill="#f985aa"/>
<rect x="416.94" y="405.67" width="16.48" height="7.706" fill="#bfdfb4"/>
<rect x="169.70" y="413.38" width="32.97" height="7.706" fill="#bfdfb4"/>
<rect x="235.63" y="413.38" width="32.97" height="7.706" fill="#bfdfb4"/>
<rect x="268.60" y="413.38" width="16.48" height="7.706" fill="#f985aa"/>
<rect x="285.08" y="413.38" width="16.48" height="7.706" fill="#968882"/>
<rect x="318.05" y="413.38" width="16.48" height="7.706" fill="#bfdfb4"/>
<rect x="334.53" y="413.38" width="49.45" height="7.706" fill="#f985aa"/>
<rect x="416.94" y="413.38" width="16.48" height="7.706" fill="#bfdfb4"/>
<path d="M67.0 143.67H433.43M67.0 151.38H433.43M67.0 159.08H433.43M67.0 166.79H433.43M67.0 174.49H433.43M67.0 182.20H433.43M67.0 189.91H433.43M67.0 197.61H433.43M67.0 205.32H433.43M67.0 213.02H433.43M67.0 220.73H433.43M67.0 228.44H433.43M67.0 236.14H433.43M67.0 243.85H433.43M67.0 251.55H433.43M67.0 259.26H433.43M67.0 266.97H433.43M67.0 274.67H433.43M67.0 282.38H433.43M67.0 290.08H433.43M67.0 297.79H433.43M67.0 305.50H433.43M67.0 313.20H433.43M67.0 320.91H433.43M67.0 328.61H433.43M67.0 336.32H433.43M67.0 344.03H433.43M67.0 351.73H433.43M67.0 359.44H433.43M67.0 367.14H433.43M67.0 374.85H433.43M67.0 382.56H433.43M67.0 390.26H433.43M67.0 397.97H433.43M67.0 405.67H433.43M67.0 413.38H433.43M67.0 421.09H433.43M169.70 143.67V421.09M186.18 143.67V421.09M202.67 143.67V421.09M219.15 143.67V421.09M235.63 143.67V421.09M252.12 143.67V421.09M268.60 143.67V421.09M285.08 143.67V421.09M301.56 143.67V421.09M318.05 143.67V421.09M334.53 143.67V421.09M351.01 143.67V421.09M367.50 143.67V421.09M383.98 143.67V421.09M400.46 143.67V421.09M416.94 143.67V421.09M433.43 143.67V421.09M67.0 143.67V421.09M121.1 143.67V421.09" fill="none" stroke="#231515" stroke-width="0.95" stroke-opacity="0.85"/>
<path d="M440.0 288.3L455.6 280.6V285.45H466.3V291.15000000000003H455.6V296.0Z" fill="#1c1c1c"/>
<path d="M440.0 330.7L455.6 323.0V327.84999999999997H466.3V333.55H455.6V338.4Z" fill="#1c1c1c"/>
<text class="s" x="471.6" y="292.5" font-size="14.2" font-style="italic" fill="#111">MALT1</text>
<text class="s" x="472.2" y="334.9" font-size="14.2" font-style="italic" fill="#111">BCL2</text>
</svg></body></html>
